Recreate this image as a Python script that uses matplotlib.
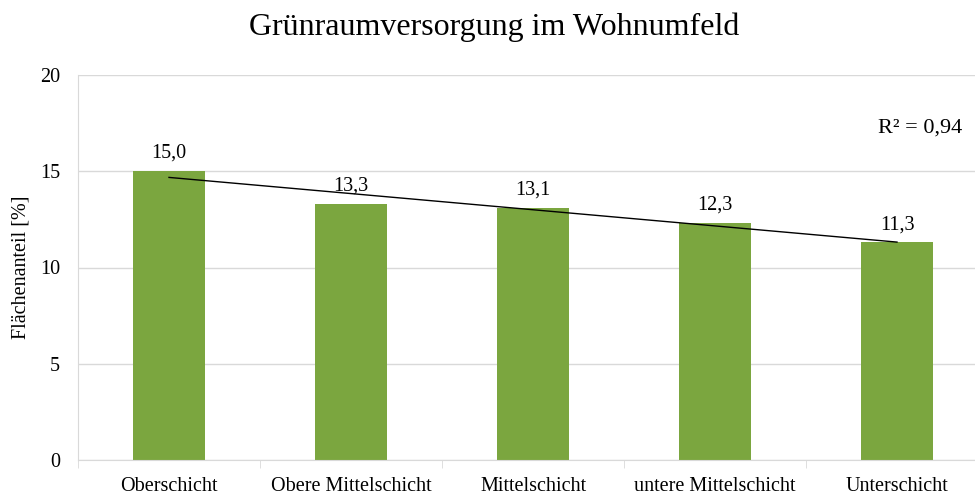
import numpy as np
import matplotlib.pyplot as plt

categories = ["Oberschicht", "Obere Mittelschicht", "Mittelschicht",
              "untere Mittelschicht", "Unterschicht"]
values = [15.0, 13.3, 13.1, 12.3, 11.3]

plt.rcParams['font.family'] = ['Liberation Serif', 'DejaVu Serif']

fig = plt.figure(figsize=(9.75, 4.95), dpi=100)
ax = fig.add_axes([78 / 975, 35 / 495, 910 / 975, 385 / 495])

x = np.arange(1, len(values) + 1)
ax.bar(x, values, width=0.4, color='#7ba63f', zorder=2)

for xi, v in zip(x, values):
    ax.annotate(f"{v:.1f}".replace('.', ','), (xi, v), xytext=(0, 6),
                textcoords='offset points', ha='center', va='bottom', fontsize=14.5)

# lineare Trendlinie
slope, intercept = np.polyfit(x, values, 1)
fit = slope * x + intercept
ax.plot(x, fit, color='black', linewidth=1, zorder=3)
ss_res = np.sum((np.array(values) - fit) ** 2)
ss_tot = np.sum((np.array(values) - np.mean(values)) ** 2)
r2 = 1 - ss_res / ss_tot
ax.text(962 / 975, 1 - 128 / 495, f"R² = {r2:.2f}".replace('.', ','),
        transform=fig.transFigure, ha='right', va='center', fontsize=16)

ax.set_xlim(0.5, len(values) + 0.5)
ax.set_ylim(0, 20)
ax.set_yticks([0, 5, 10, 15, 20])
ax.set_xticks(x)
ax.set_xticklabels(categories)
ax.set_xticks(np.arange(0.5, len(values) + 1), minor=True)
ax.tick_params(axis='x', which='major', length=0, labelsize=14.5, pad=12)
ax.tick_params(axis='x', which='minor', length=6, color='#d9d9d9')
ax.tick_params(axis='y', length=0, labelsize=14.5, pad=13)
ax.grid(axis='y', color='#d9d9d9', linewidth=1, zorder=0)

for s in ['top', 'right']:
    ax.spines[s].set_visible(False)
ax.spines['left'].set_color('#d9d9d9')
ax.spines['bottom'].set_color('#d9d9d9')

ax.set_ylabel("Flächenanteil [%]", fontsize=14.5, labelpad=7)
fig.text(494 / 975, 1 - 27 / 495, "Grünraumversorgung im Wohnumfeld",
         ha='center', va='center', fontsize=23)

fig.savefig("out.png", dpi=100)
